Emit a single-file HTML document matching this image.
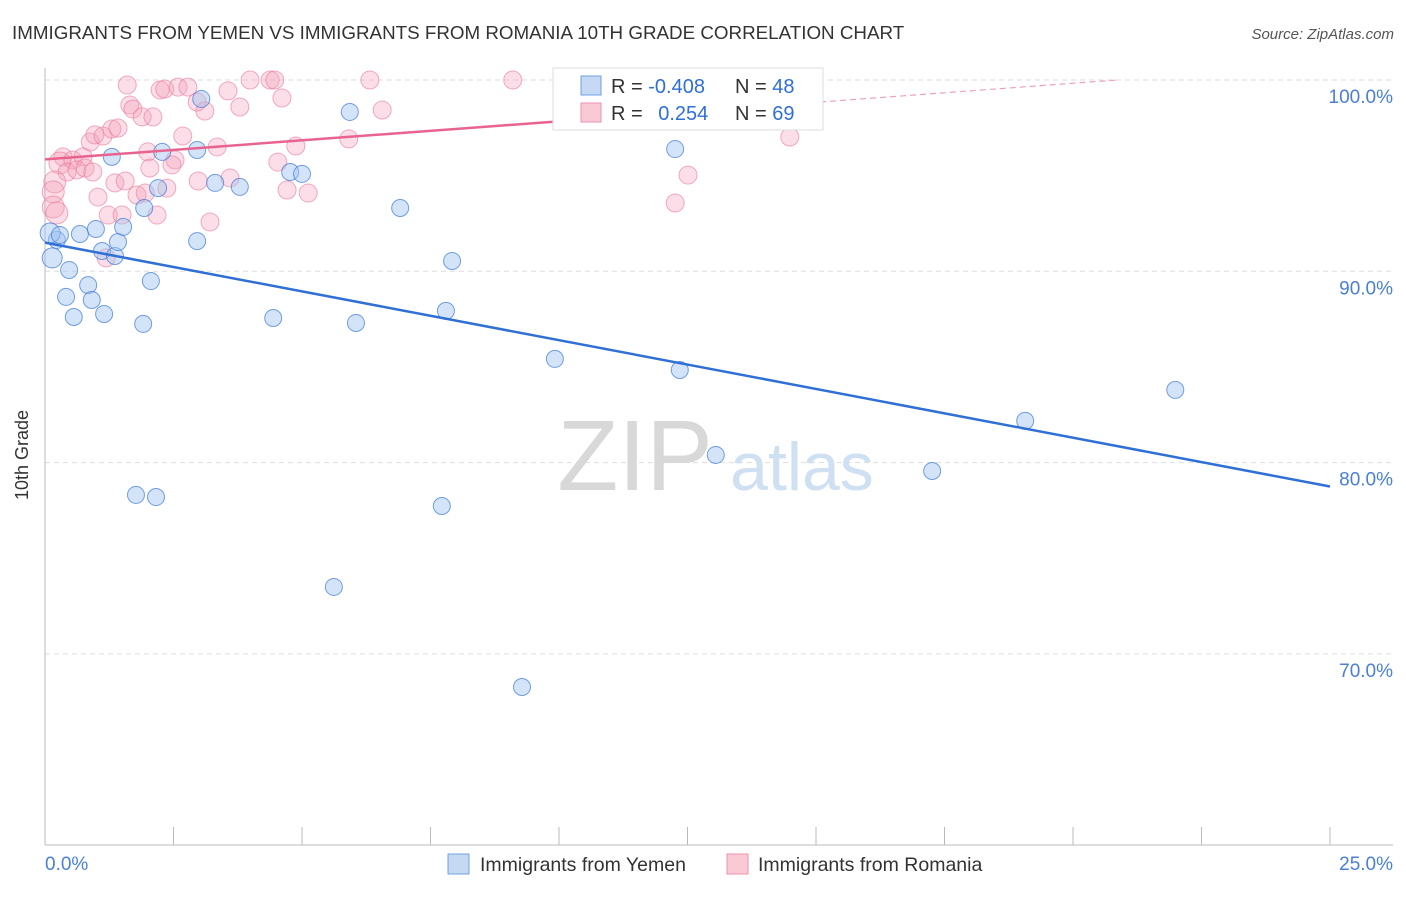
<!DOCTYPE html>
<html><head><meta charset="utf-8">
<style>
body{margin:0;background:#fff;font-family:"Liberation Sans",sans-serif;}
svg text{font-family:"Liberation Sans",sans-serif;}
</style></head>
<body>
<svg id="chart" width="1406" height="892" viewBox="0 0 1406 892" xmlns="http://www.w3.org/2000/svg">
<text x="12" y="39" font-size="18.8" fill="#333">IMMIGRANTS FROM YEMEN VS IMMIGRANTS FROM ROMANIA 10TH GRADE CORRELATION CHART</text>
<text x="1394" y="39" font-size="15" fill="#555" font-style="italic" text-anchor="end">Source: ZipAtlas.com</text>
<g id="grid"></g>
<g>
<text x="635" y="490" font-size="100" fill="#d8d8d8" text-anchor="middle" font-family="Liberation Serif">ZIP</text>
<text x="802" y="490" font-size="68" fill="#cfe0f3" text-anchor="middle">atlas</text>
</g>
<g id="axes"></g>
<g id="pink"></g>
<g id="blue"></g>
<g id="trends"></g>
<text x="28" y="455" font-size="18" fill="#333" text-anchor="middle" transform="rotate(-90 28 455)">10th Grade</text>
<g>
<rect x="553" y="68" width="270" height="62" fill="#fff" stroke="#ddd"/>
<rect x="581" y="76" width="20" height="19" fill="#c5d9f5" stroke="#6f9fe0"/>
<rect x="581" y="103" width="20" height="19" fill="#f9c9d6" stroke="#ee92ad"/>
<text x="611" y="93" font-size="20" fill="#333">R = <tspan fill="#2f6fd6">-0.408</tspan></text>
<text x="735" y="93" font-size="20" fill="#333">N = <tspan fill="#2f6fd6">48</tspan></text>
<text x="611" y="120" font-size="20" fill="#333">R =  <tspan fill="#2f6fd6" dx="10">0.254</tspan></text>
<text x="735" y="120" font-size="20" fill="#333">N = <tspan fill="#2f6fd6">69</tspan></text>
</g>
<g>
<rect x="448" y="854" width="21" height="20" fill="#c5d9f5" stroke="#6f9fe0"/>
<text x="480" y="871" font-size="19.5" fill="#333">Immigrants from Yemen</text>
<rect x="727" y="854" width="21" height="20" fill="#f9c9d6" stroke="#ee92ad"/>
<text x="758" y="871" font-size="19.5" fill="#333">Immigrants from Romania</text>
</g>
</svg>
<script>
const yemenX=[0.14,0.23,0.10,0.29,0.47,0.41,0.56,0.68,0.84,0.91,0.99,1.15,1.11,1.36,1.42,1.30,1.52,1.91,2.06,1.93,1.77,2.16,2.20,2.28,2.96,2.96,3.04,3.31,3.79,4.44,4.77,5.00,5.93,6.05,6.91,7.72,7.80,7.92,9.28,9.92,12.26,12.35,13.05,17.26,19.07,21.99,5.62];
const yemenY=[90.70,91.64,92.00,91.90,90.07,88.66,87.61,91.95,89.28,88.50,92.21,87.77,91.06,90.80,91.53,95.98,92.32,87.25,89.49,93.31,78.31,78.20,94.35,96.24,96.34,91.58,99.01,94.62,94.41,87.56,95.19,95.09,98.33,87.30,93.31,77.73,87.93,90.54,68.27,85.42,96.39,84.84,80.40,79.56,82.18,83.80,73.50];
const romaniaX=[1.60,2.24,2.33,2.59,2.78,2.96,3.11,3.56,3.79,3.99,4.38,4.47,4.61,6.32,6.56,1.65,1.71,1.89,2.10,2.68,3.35,4.88,5.91,4.53,0.88,0.97,1.13,1.30,1.42,0.35,0.29,0.54,0.74,0.43,0.62,0.78,0.93,2.00,2.04,2.53,2.47,0.19,0.16,0.16,0.23,1.03,1.36,1.56,1.79,1.95,2.37,2.98,3.60,1.23,1.50,2.18,3.21,1.19,4.71,5.12,9.10,14.49,12.51,12.26];
const romaniaY=[99.74,99.48,99.53,99.63,99.63,98.85,98.38,99.43,98.59,100,100,100,99.06,100,98.43,98.69,98.48,98.07,98.07,97.07,96.50,96.55,96.92,95.71,96.76,97.13,97.07,97.44,97.49,95.98,95.66,95.82,95.98,95.19,95.30,95.40,95.19,96.24,95.40,95.82,95.56,94.67,94.15,93.36,93.05,93.88,94.62,94.72,93.99,94.09,94.35,94.72,94.88,92.94,92.94,92.94,92.58,90.70,94.25,94.09,100,97.02,95.03,93.57];
const yemenTrend=[91.5,78.75];      // y at x=0, y at x=25
const romaniaTrend=[95.85,0.199];   // intercept, slope per %
const yTicks=[100,90,80,70];
const yTickLabels=["100.0%","90.0%","80.0%","70.0%"];
const xTicks=[0,2.5,5,7.5,10,12.5,15,17.5,20,22.5,25];
const xEndLabels=["0.0%","25.0%"];
const NS="http://www.w3.org/2000/svg";
const X=v=>45+v*(1285/25);
const Y=v=>80+(100-v)*19.13;
function mk(tag,attrs,parent){const e=document.createElementNS(NS,tag);for(const k in attrs)e.setAttribute(k,attrs[k]);parent.appendChild(e);return e;}
const grid=document.getElementById('grid'),axes=document.getElementById('axes');
yTicks.forEach((t,i)=>{
  const l=mk('line',{x1:45,x2:1393,y1:Y(t),y2:Y(t),stroke:'#ddd','stroke-dasharray':'5,4'},grid);
  
  
  const tx=mk('text',{x:1393,y:Y(t)+23,'font-size':19,fill:'#4a7fd6','text-anchor':'end'},axes);
  tx.textContent=yTickLabels[i];
  
  
});
const ax=mk('line',{x1:45,x2:45,y1:68,y2:845,stroke:'#bbb'},axes);


const bx=mk('line',{x1:45,x2:1393,y1:845,y2:845,stroke:'#bbb'},axes);


xTicks.forEach(t=>{
  const l=mk('line',{x1:X(t),x2:X(t),y1:827,y2:845,stroke:'#bbb'},axes);
  
  
});
const xl0=mk('text',{x:45,y:870,'font-size':19,fill:'#4a7fd6'},axes);xl0.textContent=xEndLabels[0];


const xl1=mk('text',{x:1393,y:870,'font-size':19,fill:'#4a7fd6','text-anchor':'end'},axes);xl1.textContent=xEndLabels[1];


const pink=document.getElementById('pink'),blue=document.getElementById('blue');
romaniaX.forEach((x,i)=>{
  const c=mk('circle',{cx:X(x),cy:Y(romaniaY[i]),r:x<0.3?11:9,fill:'rgba(244,160,185,0.35)',stroke:'rgba(232,120,155,0.6)','stroke-width':1},pink);
  
  
});
yemenX.forEach((x,i)=>{
  const c=mk('circle',{cx:X(x),cy:Y(yemenY[i]),r:x<0.2?10:8.5,fill:'rgba(160,195,240,0.45)',stroke:'rgba(60,120,215,0.7)','stroke-width':1},blue);
  
  
});
const tr=document.getElementById('trends');
const bl=mk('line',{x1:X(0),y1:Y(yemenTrend[0]),x2:X(25),y2:Y(yemenTrend[1]),stroke:'#2f6fd6','stroke-width':2.5},tr);


const pe=14.5, pd=(100-romaniaTrend[0])/romaniaTrend[1];
const pl=mk('line',{x1:X(0),y1:Y(romaniaTrend[0]),x2:X(pe),y2:Y(romaniaTrend[0]+romaniaTrend[1]*pe),stroke:'#e8648f','stroke-width':2.5},tr);


const pdl=mk('line',{x1:X(pe),y1:Y(romaniaTrend[0]+romaniaTrend[1]*pe),x2:X(pd),y2:Y(100),stroke:'#eea0b8','stroke-width':1.2,'stroke-dasharray':'6,4'},tr);


</script>
</body></html>
